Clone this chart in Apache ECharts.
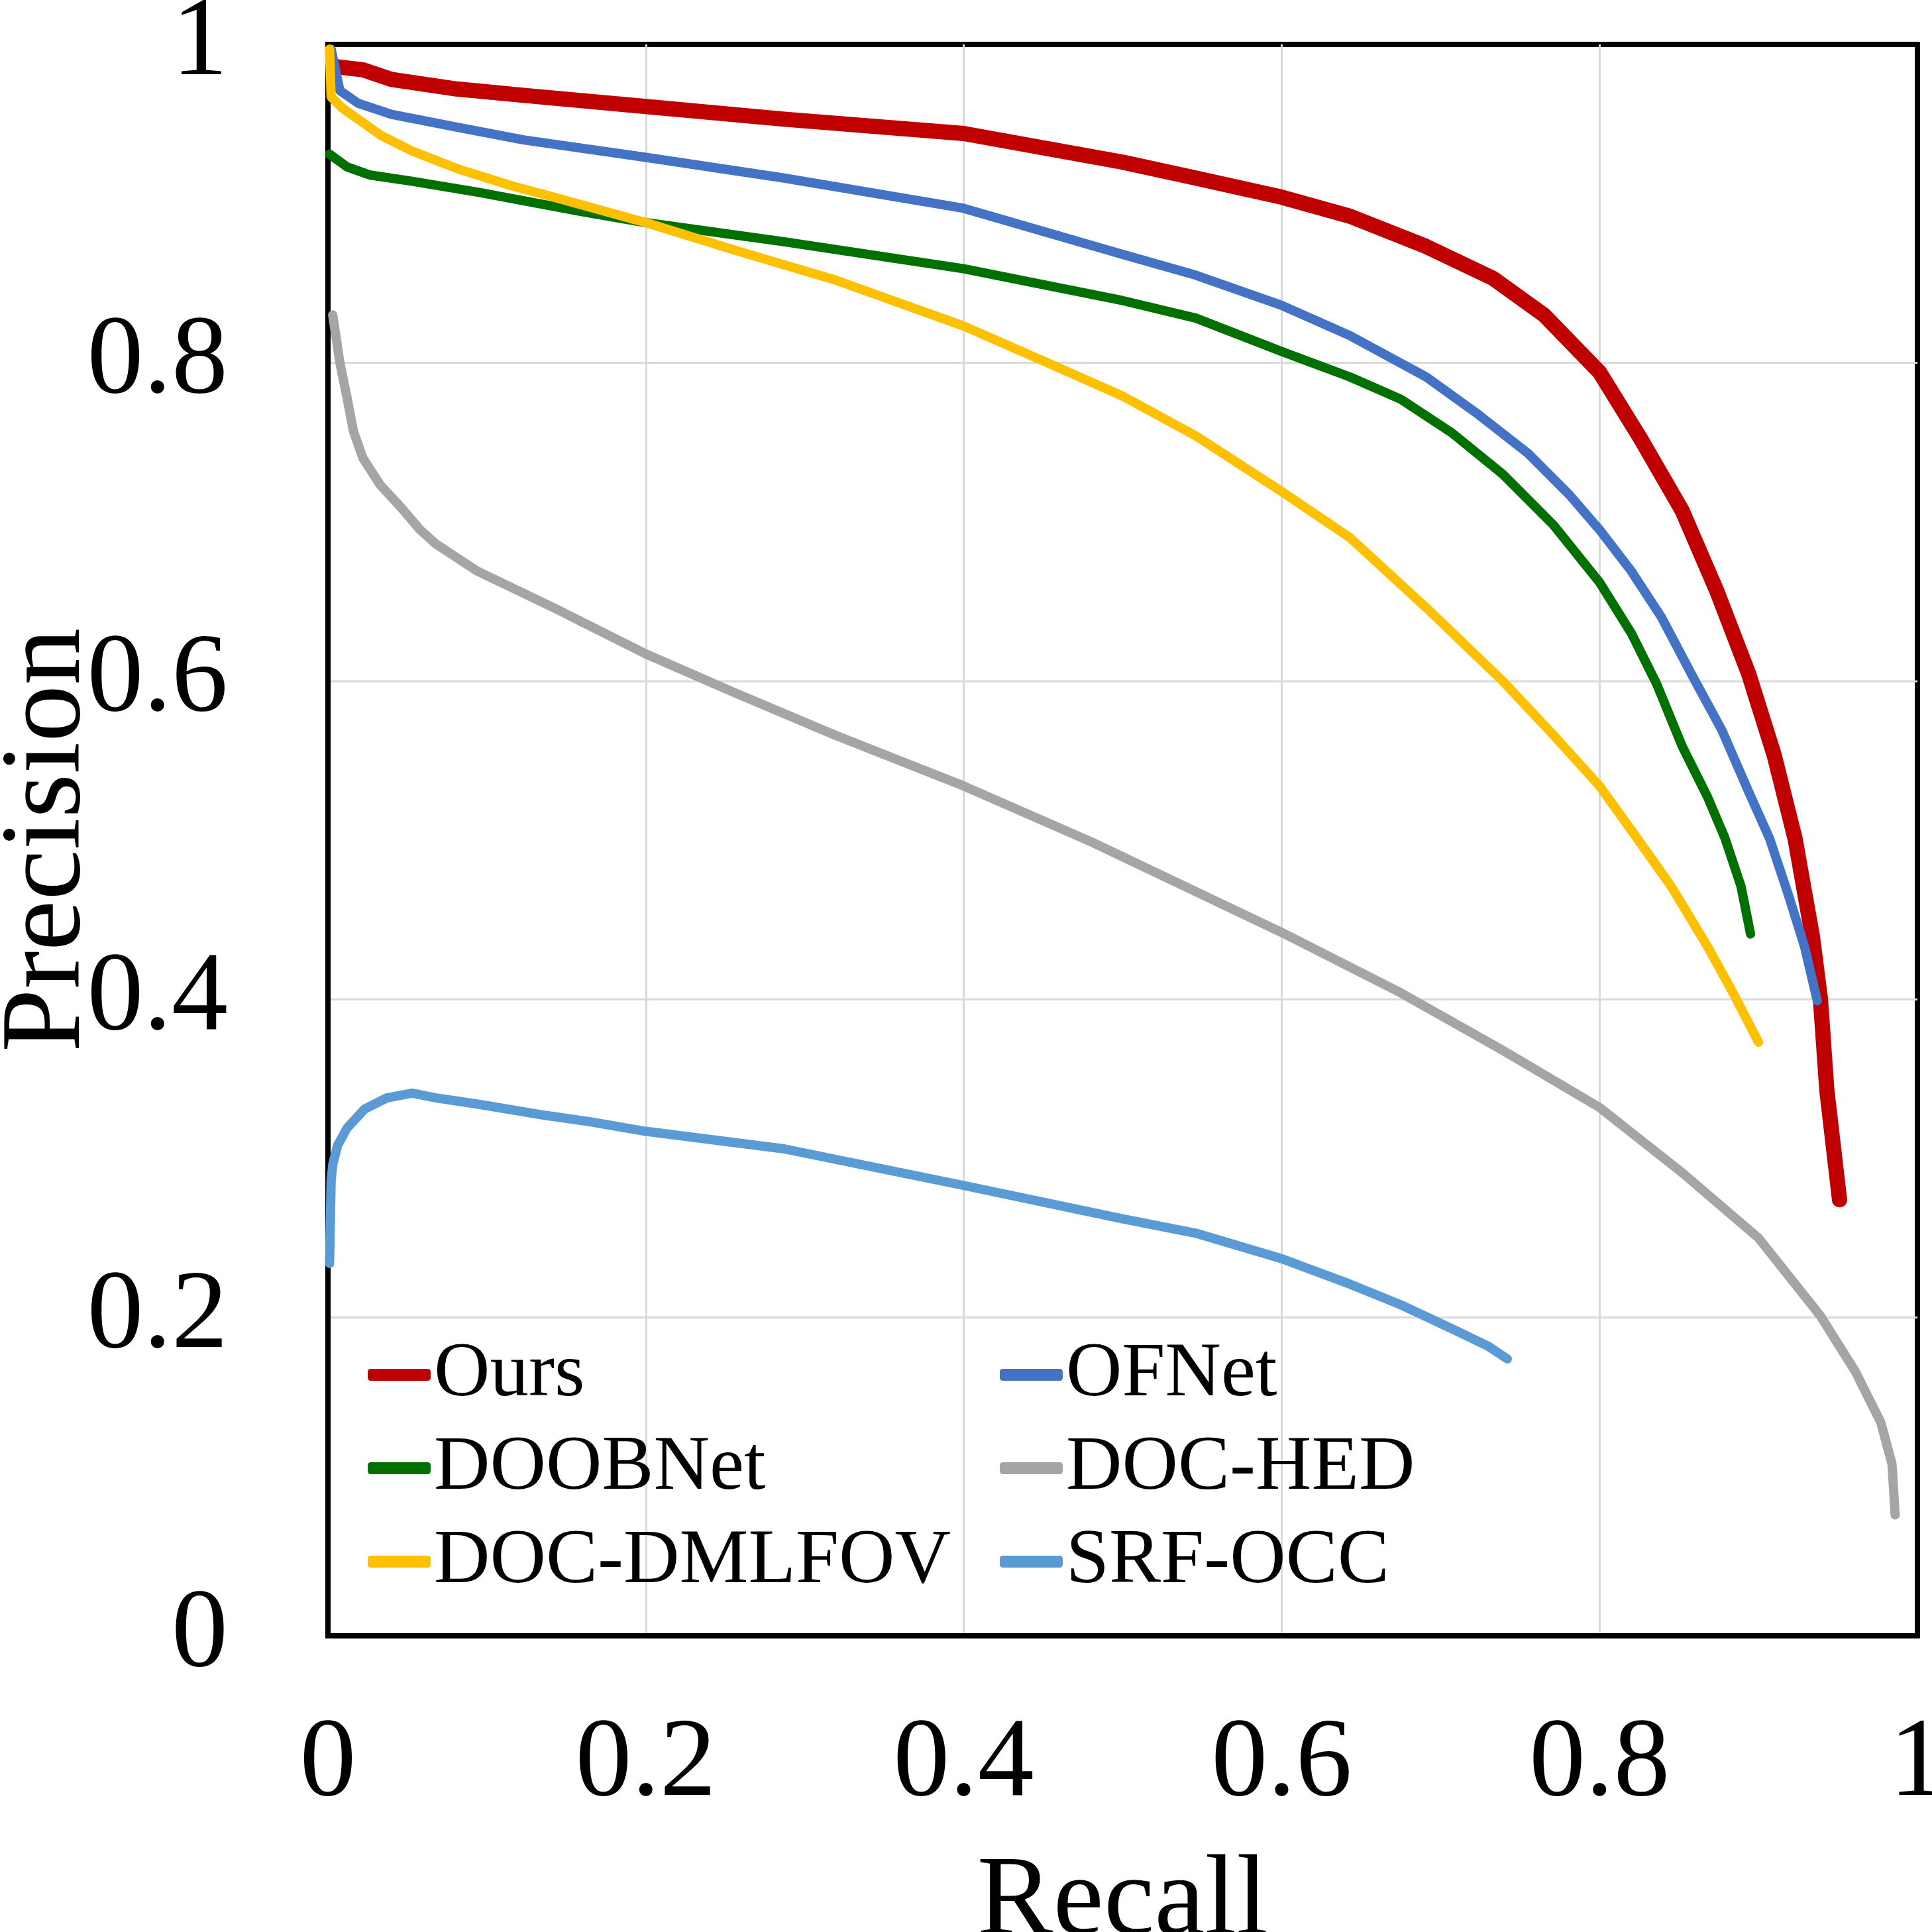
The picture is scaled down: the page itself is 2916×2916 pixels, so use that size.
<!DOCTYPE html>
<html>
<head>
<meta charset="utf-8">
<script src="https://cdn.jsdelivr.net/npm/echarts@6/dist/echarts.min.js"></script>
<style>
    html, body { margin: 0; padding: 0; background: #fff; }
    #main { width: 2916px; height: 2916px; }
</style>
</head>
<body>
<div id="main"></div>
<script>
// recall / precision pairs
var names = ['Ours', 'OFNet', 'DOOBNet', 'DOC-HED', 'DOC-DMLFOV', 'SRF-OCC'];

var ours = [[0.005,0.986],[0.022,0.984],[0.04,0.978],[0.081,0.972],[0.123,0.968],[0.2,0.961],[0.287,0.953],
    [0.4,0.944],[0.5,0.926],[0.546,0.916],[0.6,0.904],[0.643,0.892],[0.691,0.873],[0.733,0.853],[0.765,0.830],
    [0.8,0.794],[0.826,0.752],[0.852,0.707],[0.874,0.656],[0.894,0.604],[0.910,0.553],[0.923,0.501],
    [0.934,0.439],[0.939,0.4],[0.943,0.343],[0.951,0.274]];

var ofnet = [[0.002,0.997],[0.0075,0.971],[0.019,0.963],[0.04,0.956],[0.081,0.948],[0.123,0.940],[0.2,0.929],
    [0.287,0.916],[0.4,0.897],[0.5,0.868],[0.546,0.855],[0.6,0.836],[0.643,0.817],[0.691,0.791],[0.723,0.768],
    [0.755,0.743],[0.781,0.717],[0.8,0.695],[0.820,0.669],[0.839,0.640],[0.858,0.604],[0.877,0.569],
    [0.894,0.530],[0.907,0.501],[0.919,0.465],[0.929,0.433],[0.937,0.399]];

var doobnet = [[0.001,0.931],[0.012,0.923],[0.026,0.918],[0.053,0.914],[0.095,0.907],[0.159,0.895],[0.2,0.888],
    [0.287,0.876],[0.4,0.859],[0.5,0.839],[0.546,0.828],[0.6,0.807],[0.643,0.791],[0.675,0.777],[0.707,0.756],
    [0.739,0.730],[0.771,0.698],[0.8,0.662],[0.820,0.630],[0.836,0.598],[0.852,0.559],[0.868,0.527],
    [0.879,0.501],[0.889,0.471],[0.895,0.441]];

var doched = [[0.003,0.830],[0.0075,0.800],[0.012,0.778],[0.016,0.757],[0.022,0.740],[0.033,0.723],[0.046,0.709],
    [0.058,0.695],[0.068,0.686],[0.094,0.669],[0.142,0.646],[0.2,0.617],[0.255,0.593],[0.319,0.566],[0.4,0.534],
    [0.48,0.499],[0.6,0.442],[0.675,0.404],[0.739,0.368],[0.8,0.332],[0.852,0.291],[0.9,0.250],
    [0.939,0.201],[0.961,0.166],[0.977,0.134],[0.984,0.108],[0.986,0.076]];

var docdml = [[0.001,0.997],[0.002,0.967],[0.009,0.960],[0.019,0.953],[0.033,0.943],[0.053,0.933],[0.081,0.922],
    [0.116,0.911],[0.142,0.904],[0.2,0.888],[0.255,0.871],[0.319,0.852],[0.4,0.823],[0.448,0.802],[0.5,0.779],
    [0.546,0.754],[0.6,0.719],[0.643,0.690],[0.691,0.646],[0.739,0.600],[0.771,0.566],[0.8,0.534],[0.823,0.502],
    [0.845,0.471],[0.868,0.433],[0.884,0.404],[0.900,0.373]];

var srfocc = [[0.001,0.234],[0.002,0.286],[0.003,0.296],[0.006,0.308],[0.012,0.319],[0.023,0.331],[0.037,0.338],
    [0.053,0.341],[0.068,0.338],[0.095,0.334],[0.137,0.327],[0.165,0.323],[0.2,0.317],[0.287,0.306],[0.4,0.283],
    [0.5,0.262],[0.546,0.253],[0.6,0.237],[0.643,0.221],[0.675,0.208],[0.707,0.193],[0.730,0.182],[0.742,0.174]];

var colors = ['#C00000', '#4472C4', '#007000', '#A5A5A5', '#FFC000', '#5B9BD5'];
var widths = [23, 14, 14, 14, 14, 14];

window.onload = function() {
    var font = "'Liberation Serif', 'Times New Roman', serif";
    var chart = echarts.init(document.getElementById('main'));
    var allData = [ours, ofnet, doobnet, doched, docdml, srfocc];

    var series = [];
    for (var i = 0; i < names.length; i++) {
        series.push({
            name: names[i],
            type: 'line',
            data: allData[i],
            showSymbol: false,
            clip: false,
            color: colors[i],
            lineStyle: { width: widths[i], color: colors[i], cap: 'round', join: 'round' },
            z: 2 + i
        });
    }

    function legendBlock(left, list) {
        return {
            orient: 'vertical',
            left: left,
            top: 2010,
            data: list,
            icon: 'roundRect',
            itemWidth: 95,
            itemHeight: 18,
            itemGap: 21,
            textStyle: { fontFamily: font, fontSize: 117, lineHeight: 120, color: '#000' }
        };
    }

    var gridLines = { showMinLine: false, showMaxLine: false, lineStyle: { color: '#d9d9d9', width: 3 } };

    var option = {
        animation: false,
        backgroundColor: '#fff',
        grid: {
            left: 495, top: 67, width: 2399, height: 2402,
            outerBoundsMode: 'none',
            containLabel: false,
            show: true, borderColor: '#000', borderWidth: 8
        },
        legend: [
            legendBlock(550, ['Ours', 'DOOBNet', 'DOC-DMLFOV']),
            legendBlock(1504, ['OFNet', 'DOC-HED', 'SRF-OCC'])
        ],
        xAxis: {
            type: 'value', min: 0, max: 1, interval: 0.2,
            name: 'Recall', nameLocation: 'middle', nameGap: 318,
            nameTextStyle: { fontFamily: font, fontSize: 172, color: '#000' },
            axisLine: { lineStyle: { color: '#000', width: 8 } },
            axisTick: { show: false },
            axisLabel: { margin: 110, fontFamily: font, fontSize: 170, color: '#000' },
            splitLine: gridLines
        },
        yAxis: {
            type: 'value', min: 0, max: 1, interval: 0.2,
            name: 'Precision', nameLocation: 'middle', nameGap: 335,
            nameMoveOverlap: false,
            nameTextStyle: { fontFamily: font, fontSize: 172, color: '#000' },
            axisLine: { lineStyle: { color: '#000', width: 8 } },
            axisTick: { show: false },
            axisLabel: { margin: 151, fontFamily: font, fontSize: 170, color: '#000' },
            splitLine: gridLines
        },
        series: series
    };

    chart.setOption(option);
};
</script>
</body>
</html>
